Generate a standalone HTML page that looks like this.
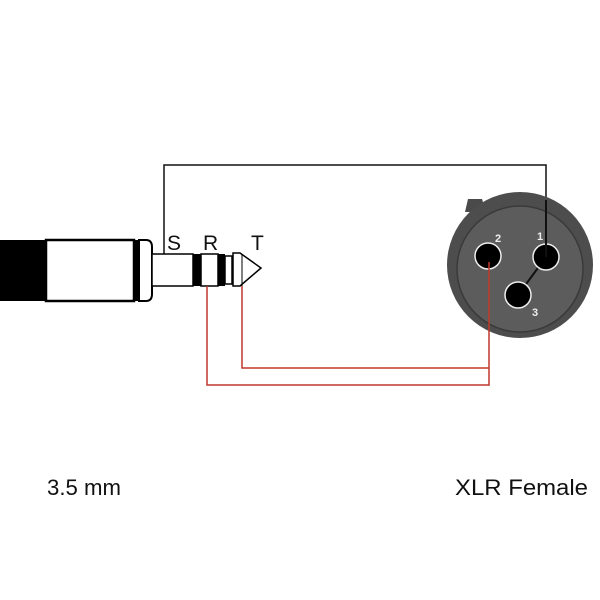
<!DOCTYPE html>
<html><head><style>html,body{margin:0;padding:0;background:#fff;}svg{display:block}</style></head>
<body>
<svg width="600" height="600" viewBox="0 0 600 600" xmlns="http://www.w3.org/2000/svg">
<rect width="600" height="600" fill="#fff"/>
<!-- S wire -->
<polyline points="164,254 164,165 546,165 546,200" fill="none" stroke="#111" stroke-width="1.5"/>
<!-- jack body -->
<rect x="0" y="240" width="46" height="61" fill="#000"/>
<rect x="46" y="240" width="88" height="61" fill="#fff" stroke="#000" stroke-width="2.5"/>
<rect x="134" y="240" width="5" height="61" fill="#000"/>
<path d="M139,240 L146,240 Q152,240 152,247 L152,294 Q152,301 146,301 L139,301 Z" fill="#fff" stroke="#000" stroke-width="2"/>
<!-- shaft -->
<rect x="152" y="254" width="41" height="32" fill="#fff" stroke="#000" stroke-width="1.5"/>
<rect x="193" y="254" width="8" height="32" fill="#000"/>
<rect x="201" y="254" width="17" height="32" fill="#fff" stroke="#000" stroke-width="1.5"/>
<rect x="218" y="254" width="7" height="32" fill="#000"/>
<rect x="225" y="256" width="7" height="28" fill="#fff" stroke="#000" stroke-width="1.5"/>
<path d="M233,253 L240,253 L261,268 L240,286 L233,286 Z" fill="#fff" stroke="#000" stroke-width="1.5"/>
<line x1="242" y1="254" x2="242" y2="286" stroke="#000" stroke-width="1"/>
<!-- labels -->
<text x="167" y="250" font-family="Liberation Sans, sans-serif" font-size="21" fill="#111">S</text>
<text x="203" y="250" font-family="Liberation Sans, sans-serif" font-size="21" fill="#111">R</text>
<text x="251" y="250" font-family="Liberation Sans, sans-serif" font-size="21" fill="#111">T</text>
<!-- red wires -->
<polyline points="207,286 207,385 489,385" fill="none" stroke="#c0392b" stroke-width="1.5"/>
<polyline points="242,286 242,368 489,368" fill="none" stroke="#c0392b" stroke-width="1.5"/>
<!-- XLR -->
<path d="M465,212 L468,199 L482,199 L486,212 Z" fill="#4a4a4a"/>
<circle cx="520" cy="265" r="73" fill="#4d4d4d"/>
<circle cx="520" cy="269" r="63" fill="#5c5c5c" stroke="#3a3a3a" stroke-width="1.5"/>
<line x1="546" y1="257" x2="518" y2="295" stroke="#111" stroke-width="2"/>
<circle cx="488" cy="256" r="13" fill="#000" stroke="#eee" stroke-width="1.5"/>
<circle cx="546" cy="257" r="13" fill="#000" stroke="#eee" stroke-width="1.5"/>
<circle cx="518" cy="295" r="13" fill="#000" stroke="#eee" stroke-width="1.5"/>
<line x1="546" y1="200" x2="546" y2="257" stroke="#111" stroke-width="2"/>
<line x1="489" y1="262" x2="489" y2="385.75" stroke="#c0392b" stroke-width="1.5"/>
<text x="495" y="242" font-family="Liberation Sans, sans-serif" font-size="11" font-weight="bold" fill="#eee">2</text>
<text x="537" y="240" font-family="Liberation Sans, sans-serif" font-size="11" font-weight="bold" fill="#eee">1</text>
<text x="532" y="316" font-family="Liberation Sans, sans-serif" font-size="11" font-weight="bold" fill="#eee">3</text>
<!-- captions -->
<text x="47" y="495" font-family="Liberation Sans, sans-serif" font-size="22" fill="#111" textLength="74" lengthAdjust="spacingAndGlyphs">3.5 mm</text>
<text x="455" y="495" font-family="Liberation Sans, sans-serif" font-size="22" fill="#111" textLength="133" lengthAdjust="spacingAndGlyphs">XLR Female</text>
</svg>
</body></html>
